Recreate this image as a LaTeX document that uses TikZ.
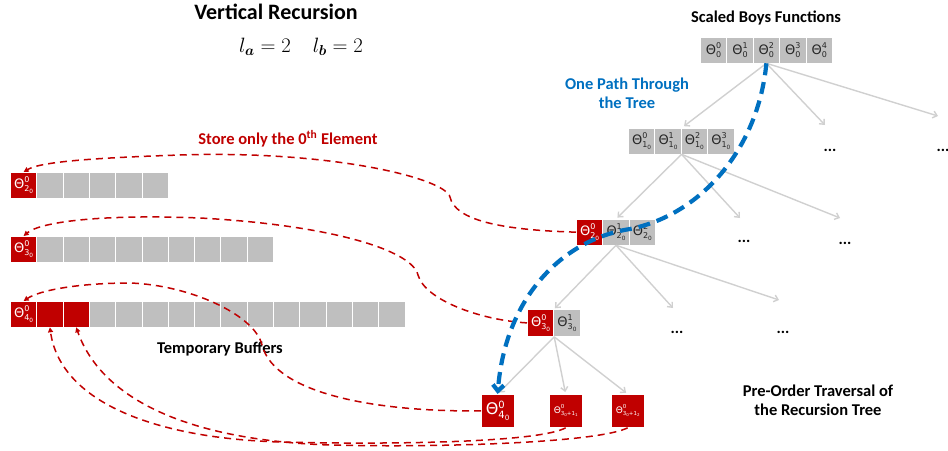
\documentclass[tikz,border=0pt]{standalone}
\usepackage{fontspec}
\usepackage{bm}
\usetikzlibrary{arrows.meta,calc}
\newfontfamily\carl{Carlito}
\newfontfamily\dv{DejaVu Sans}
\definecolor{cellgray}{HTML}{BFBFBF}
\definecolor{dred}{HTML}{C00000}
\definecolor{pblue}{HTML}{0070C0}
\definecolor{treegray}{HTML}{D0D0D0}
% Theta with stacked super- and subscript
\newcommand\thA[2]{{\fontsize{13}{13}\selectfont Θ}\raisebox{-3.4pt}{\fontsize{8}{8}\selectfont\shortstack[l]{#1\\#2}}}
\newcommand\sbA[1]{\raisebox{-1.6pt}{\fontsize{5.8}{5.8}\selectfont #1}}
\newcommand\thB[2]{{\fontsize{16}{16}\selectfont Θ}\raisebox{-4.4pt}{\fontsize{10}{10}\selectfont\shortstack[l]{#1\\#2}}}
\newcommand\sbB[1]{\raisebox{-2pt}{\fontsize{7.2}{7.2}\selectfont #1}}
\newcommand\thC[2]{{\fontsize{9}{9}\selectfont Θ}\raisebox{-2.3pt}{\fontsize{5.5}{5.5}\selectfont\shortstack[l]{#1\\#2}}}
\newcommand\sbC[1]{\raisebox{-1pt}{\fontsize{4}{4}\selectfont #1}}
\begin{document}
\begin{tikzpicture}[x=1pt,y=-1pt,
  cell/.style={draw=white,line width=0.8pt,fill=cellgray,minimum width=26.4pt,minimum height=25.5pt,inner sep=0pt,font=\dv,text=black!85,anchor=north west},
  rcell/.style={cell,fill=dred,text=white},
  bigcell/.style={rcell,minimum width=32.5pt,minimum height=33pt},
  tree/.style={treegray,line width=1.4pt,-{Straight Barb[length=4pt,width=7pt]}},
  redlink/.style={dred,line width=1.5pt,dash pattern=on 7pt off 5pt,-{Triangle[length=5pt,width=5pt]}},
  lbl/.style={font=\carl\bfseries\fontsize{16.5}{19}\selectfont,align=center},
  dotsn/.style={font=\carl\bfseries\fontsize{16}{16}\selectfont}]
\useasboundingbox (0,0) rectangle (948,450);

% titles
\node[font=\carl\bfseries\fontsize{22}{24}\selectfont] (title) at (276,12) {Vertical Recursion};
\node[font=\fontsize{22}{24}\selectfont] (lab) at (301,47) {$l_{\bm a} = 2 \quad l_{\bm b} = 2$};
\node[lbl] (sbf) at (766,18) {Scaled Boys Functions};
\node[lbl,text=pblue] (path) at (627,93) {One Path Through\\the Tree};
\node[lbl,text=dred] (store) at (288,139) {Store only the 0\textsuperscript{th} Element};
\node[lbl] (tmp) at (220,349) {Temporary Buffers};
\node[lbl] (pre) at (818,400) {Pre-Order Traversal of\\the Recursion Tree};

% tree arrays
\foreach \i in {0,...,4} \node[cell] (top\i) at ({700+26.4*\i},37) {\thA{\i}{0}};
\foreach \i in {0,...,3} \node[cell] (la\i) at ({628+26.4*\i},128) {\thA{\i}{1\sbA{0}}};
\node[rcell] (lb0) at (576,219) {\thA{0}{2\sbA{0}}};
\foreach \i in {1,2} \node[cell] (lb\i) at ({576+26.4*\i},219) {\thA{\i}{2\sbA{0}}};
\node[rcell,minimum height=27pt] (lc0) at (527,309) {\thA{0}{3\sbA{0}}};
\node[cell,minimum height=27pt] (lc1) at (553.4,309) {\thA{1}{3\sbA{0}}};
\node[bigcell] (ld0) at (481,394) {\thB{0}{4\sbB{0}}};
\node[bigcell] (ld1) at (549,394) {\thC{0}{3\sbC{0}+1\sbC{1}}};
\node[bigcell] (ld2) at (611,394) {\thC{0}{3\sbC{0}+1\sbC{2}}};

% buffers
\node[rcell] (ba0) at (10,172) {\thA{0}{2\sbA{0}}};
\foreach \i in {1,...,5} \node[cell] (ba\i) at ({10+26.3*\i},172) {};
\node[rcell] (bb0) at (10,236) {\thA{0}{3\sbA{0}}};
\foreach \i in {1,...,9} \node[cell] (bb\i) at ({10+26.3*\i},236) {};
\node[rcell] (bc0) at (10,301) {\thA{0}{4\sbA{0}}};
\foreach \i in {1,2} \node[rcell] (bc\i) at ({10+26.3*\i},301) {};
\foreach \i in {3,...,14} \node[cell] (bc\i) at ({10+26.3*\i},301) {};

% dots
\node[dotsn] (d1) at (830,150) {...};
\node[dotsn] (d2) at (943,150) {...};
\node[dotsn] (d3) at (744,241) {...};
\node[dotsn] (d4) at (845,243) {...};
\node[dotsn] (d5) at (677,332) {...};
\node[dotsn] (d6) at (783,332) {...};

% tree connectors
\coordinate (o0) at (top2.south);
\coordinate (o1) at (la1.south east);
\coordinate (o2) at (lb1.south);
\coordinate (o3) at (lc0.south east);
\coordinate (e1) at (825,125);
\coordinate (e2) at (938,116);
\coordinate (e3) at (740,218);
\coordinate (e4) at (840,218);
\coordinate (e5) at (673,308);
\coordinate (e6) at (779,300);
\draw[tree,shorten >=3pt] (o0) -- (la1.north east);
\draw[tree] (o0) -- (e1);
\draw[tree] (o0) -- (e2);
\draw[tree,shorten >=2pt] (o1) -- (lb1.north);
\draw[tree] (o1) -- (e3);
\draw[tree] (o1) -- (e4);
\draw[tree,shorten >=1pt] (o2) -- (lc0.north east);
\draw[tree] (o2) -- (e5);
\draw[tree] (o2) -- (e6);
\draw[tree,shorten >=2pt] (o3) -- (ld0.north);
\draw[tree,shorten >=2pt] (o3) -- (ld1.north);
\draw[tree,shorten >=2pt] (o3) -- (ld2.north);

% red links
\draw[redlink] (lb0.west) .. controls (500,230) and (455,220) .. (450,197) .. controls (445,178) and (330,150) .. (180,155) .. controls (90,158) and (40,162) .. (ba0.north);
\draw[redlink] (lc0.west) .. controls (480,320) and (425,300) .. (418,275) .. controls (412,250) and (330,225) .. (200,218) .. controls (100,214) and (40,222) .. (bb0.north);
\draw[redlink] (ld0.west) .. controls (380,412) and (275,395) .. (262,345) .. controls (255,315) and (190,285) .. (130,283) .. controls (80,283) and (40,290) .. (bc0.north);
\draw[redlink] (ld1.south) .. controls (540,442) and (400,445) .. (280,442) .. controls (150,438) and (60,400) .. (bc1.south);
\draw[redlink] (ld2.south) .. controls (600,442) and (450,448) .. (330,445) .. controls (180,440) and (100,395) .. (bc2.south);

% blue path
\draw[pblue,line width=4.2pt,dash pattern=on 12pt off 7pt,-{Straight Barb[length=6pt,width=11pt]}] (top2.south) .. controls (758,150) and (700,215) .. (630,229) .. controls (560,240) and (505,300) .. (ld0.north);
\end{tikzpicture}
\end{document}
